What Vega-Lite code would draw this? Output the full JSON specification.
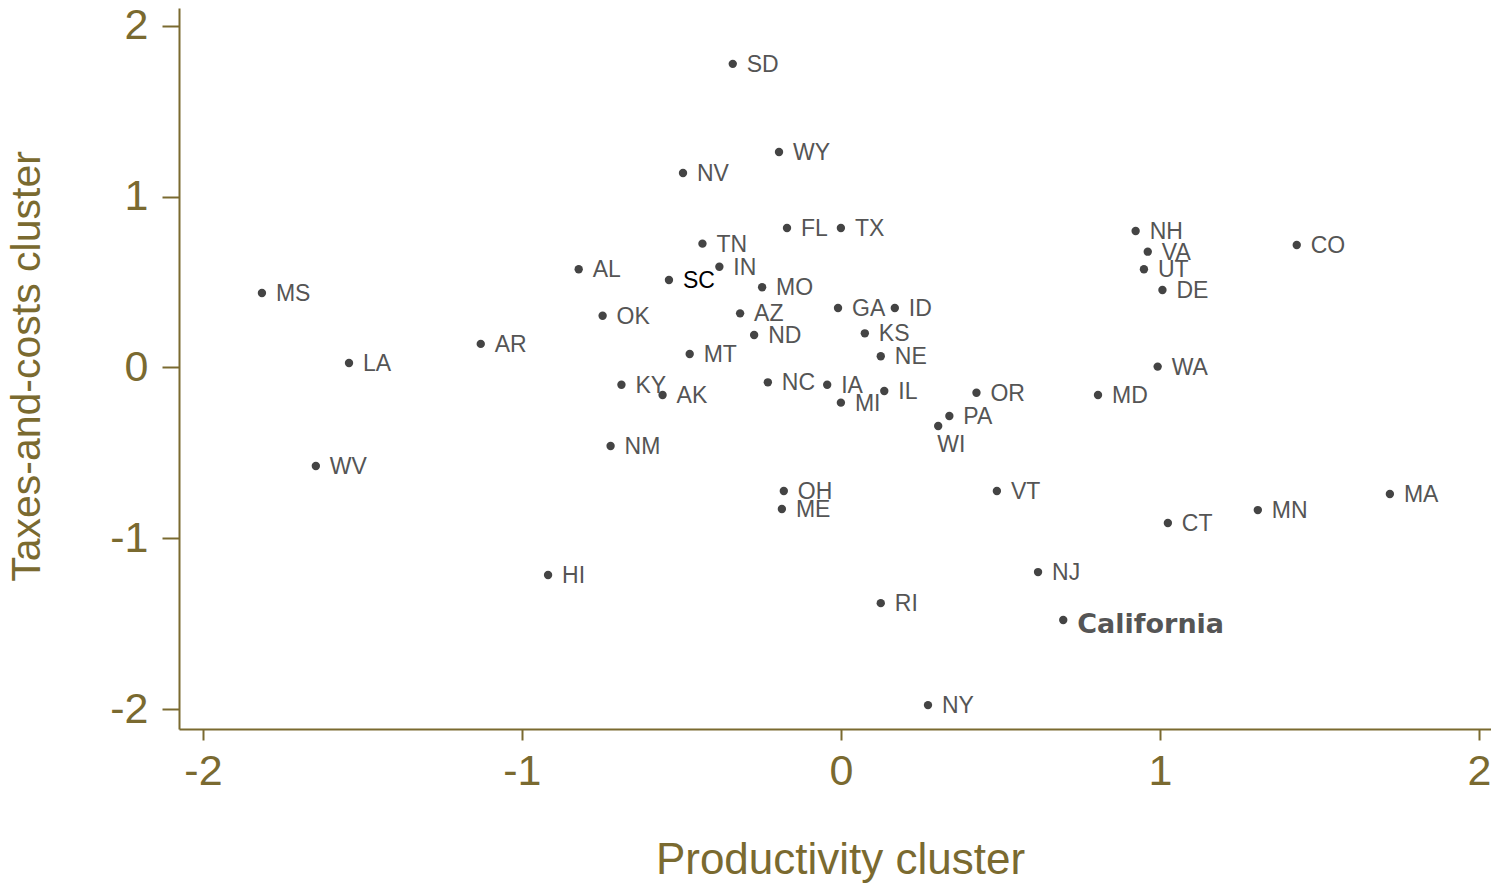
{
  "$schema": "https://vega.github.io/schema/vega-lite/v6.json",
  "autosize": {"type": "none"},
  "padding": {"left": 179, "top": 8, "right": 0, "bottom": 156},
  "width": 1312,
  "height": 721,
  "background": "white",
  "config": {
    "view": {"stroke": null},
    "font": "Liberation Sans"
  },
  "data": {
    "values": [
      {"state": "SD", "prod": -0.339, "tax": 1.778},
      {"state": "WY", "prod": -0.194, "tax": 1.262},
      {"state": "NV", "prod": -0.495, "tax": 1.139},
      {"state": "FL", "prod": -0.169, "tax": 0.817},
      {"state": "TX", "prod": 0.0, "tax": 0.817},
      {"state": "TN", "prod": -0.434, "tax": 0.725},
      {"state": "AL", "prod": -0.822, "tax": 0.575},
      {"state": "SC", "prod": -0.539, "tax": 0.512},
      {"state": "IN", "prod": -0.381, "tax": 0.590},
      {"state": "MO", "prod": -0.247, "tax": 0.470},
      {"state": "OK", "prod": -0.747, "tax": 0.303},
      {"state": "AZ", "prod": -0.316, "tax": 0.317},
      {"state": "ND", "prod": -0.272, "tax": 0.190},
      {"state": "GA", "prod": -0.009, "tax": 0.348},
      {"state": "ID", "prod": 0.169, "tax": 0.348},
      {"state": "KS", "prod": 0.075, "tax": 0.200},
      {"state": "MT", "prod": -0.474, "tax": 0.079},
      {"state": "NE", "prod": 0.125, "tax": 0.066},
      {"state": "KY", "prod": -0.688, "tax": -0.101},
      {"state": "AK", "prod": -0.559, "tax": -0.161},
      {"state": "NC", "prod": -0.229, "tax": -0.087},
      {"state": "IA", "prod": -0.043, "tax": -0.101},
      {"state": "IL", "prod": 0.136, "tax": -0.138},
      {"state": "MI", "prod": 0.0, "tax": -0.206},
      {"state": "NM", "prod": -0.722, "tax": -0.460},
      {"state": "PA", "prod": 0.340, "tax": -0.284},
      {"state": "WI", "prod": 0.305, "tax": -0.343},
      {"state": "OR", "prod": 0.425, "tax": -0.148},
      {"state": "MD", "prod": 0.806, "tax": -0.161},
      {"state": "WA", "prod": 0.993, "tax": 0.005},
      {"state": "NH", "prod": 0.924, "tax": 0.799},
      {"state": "VA", "prod": 0.962, "tax": 0.678},
      {"state": "UT", "prod": 0.950, "tax": 0.575},
      {"state": "DE", "prod": 1.008, "tax": 0.454},
      {"state": "CO", "prod": 1.429, "tax": 0.717},
      {"state": "MS", "prod": -1.815, "tax": 0.436},
      {"state": "LA", "prod": -1.542, "tax": 0.026},
      {"state": "AR", "prod": -1.129, "tax": 0.138},
      {"state": "WV", "prod": -1.646, "tax": -0.577},
      {"state": "HI", "prod": -0.918, "tax": -1.215},
      {"state": "OH", "prod": -0.179, "tax": -0.723},
      {"state": "ME", "prod": -0.185, "tax": -0.829},
      {"state": "VT", "prod": 0.489, "tax": -0.723},
      {"state": "NJ", "prod": 0.618, "tax": -1.198},
      {"state": "RI", "prod": 0.125, "tax": -1.380},
      {"state": "California", "prod": 0.697, "tax": -1.479},
      {"state": "NY", "prod": 0.273, "tax": -1.977},
      {"state": "CT", "prod": 1.025, "tax": -0.911},
      {"state": "MN", "prod": 1.307, "tax": -0.835},
      {"state": "MA", "prod": 1.721, "tax": -0.741}
    ]
  },
  "encoding": {
    "x": {
      "field": "prod", "type": "quantitative",
      "scale": {"domain": [-2.075, 2.038], "nice": false, "zero": false},
      "axis": {
        "title": "Productivity cluster",
        "values": [-2, -1, 0, 1, 2],
        "labelExpr": "datum.value < 0 ? '-' + abs(datum.value) : '' + datum.value",
        "grid": false,
        "domainColor": "#7a6a30", "domainWidth": 2,
        "tickColor": "#7a6a30", "tickWidth": 2, "tickSize": 11,
        "labelColor": "#7a6a30", "labelFontSize": 43, "labelPadding": 10,
        "labelFont": "Liberation Sans",
        "titleColor": "#7a6a30", "titleFontSize": 44, "titleFontWeight": "normal",
        "titleFont": "Liberation Sans",
        "titleX": 661, "titleY": 144, "titleBaseline": "alphabetic", "titleAnchor": "middle"
      }
    },
    "y": {
      "field": "tax", "type": "quantitative",
      "scale": {"domain": [-2.117, 2.105], "nice": false, "zero": false},
      "axis": {
        "title": "Taxes-and-costs cluster",
        "values": [-2, -1, 0, 1, 2],
        "labelExpr": "datum.value < 0 ? '-' + abs(datum.value) : '' + datum.value",
        "grid": false,
        "domainColor": "#7a6a30", "domainWidth": 2,
        "tickColor": "#7a6a30", "tickWidth": 2, "tickSize": 17,
        "labelColor": "#7a6a30", "labelFontSize": 43, "labelPadding": 14,
        "labelFont": "Liberation Sans",
        "titleColor": "#7a6a30", "titleFontSize": 41, "titleFontWeight": "normal",
        "titleFont": "Liberation Sans",
        "titleAngle": -90, "titleX": -172, "titleY": 358,
        "titleBaseline": "top", "titleAlign": "center"
      }
    }
  },
  "layer": [
    {
      "mark": {"type": "point", "filled": true, "shape": "circle", "size": 70, "color": "#444444", "opacity": 1}
    },
    {
      "transform": [{"filter": "datum.state != 'California' && datum.state != 'WI'"}],
      "mark": {"type": "text", "align": "left", "baseline": "middle", "dx": 14, "dy": 1, "fontSize": 23, "font": "Liberation Sans"},
      "encoding": {
        "text": {"field": "state"},
        "color": {"condition": {"test": "datum.state == 'SC'", "value": "#000000"}, "value": "#555555"}
      }
    },
    {
      "transform": [{"filter": "datum.state == 'WI'"}],
      "mark": {"type": "text", "align": "left", "baseline": "middle", "dx": -1, "dy": 19, "fontSize": 23, "font": "Liberation Sans", "color": "#555555"},
      "encoding": {"text": {"field": "state"}}
    },
    {
      "transform": [{"filter": "datum.state == 'California'"}],
      "mark": {"type": "text", "align": "left", "baseline": "middle", "dx": 14, "dy": 5, "fontSize": 27, "fontWeight": "bold", "font": "DejaVu Sans", "color": "#555555"},
      "encoding": {"text": {"field": "state"}}
    }
  ]
}
